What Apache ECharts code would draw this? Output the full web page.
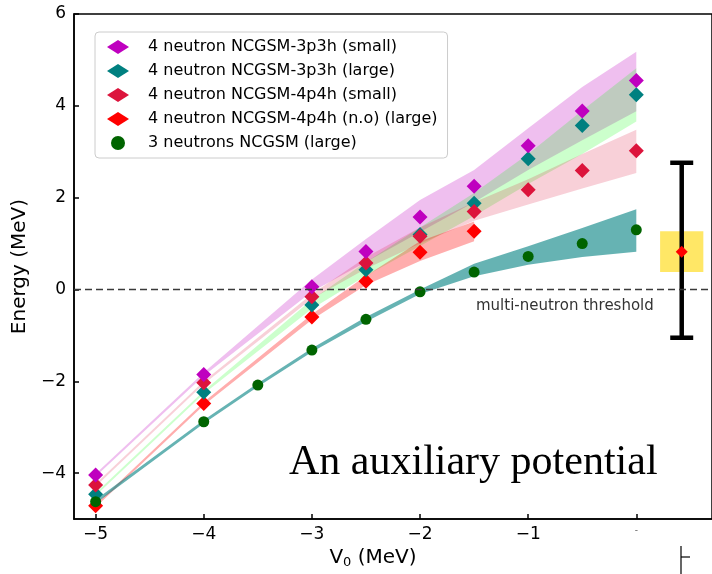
<!DOCTYPE html>
<html><head><meta charset="utf-8">
<script src="https://cdn.jsdelivr.net/npm/echarts@6/dist/echarts.min.js"></script>
<style>html,body{margin:0;padding:0;background:#fff}#c{width:712px;height:574px}</style>
</head><body><div id="c"></div>
<script>
// ---- data ----
const xs4 = [-5, -4, -3, -2.5, -2, -1.5, -1, -0.5, 0];
const mag = [-4.04, -1.85, 0.06, 0.83, 1.58, 2.25, 3.13, 3.89, 4.55];
const teal = [-4.46, -2.24, -0.34, 0.43, 1.20, 1.88, 2.85, 3.57, 4.24];
const crim = [-4.26, -2.03, -0.16, 0.58, 1.16, 1.70, 2.17, 2.59, 3.02];
const xsRed = [-5, -4, -3, -2.5, -2, -1.5];
const red = [-4.71, -2.48, -0.60, 0.18, 0.81, 1.27];
const xs3 = [-5, -4, -3.5, -3, -2.5, -2, -1.5, -1, -0.5, 0];
const n3 = [-4.62, -2.88, -2.08, -1.32, -0.65, -0.05, 0.38, 0.72, 1.00, 1.30];
// uncertainty bands (lower / upper)
const magLo = [-4.07, -1.88, -0.05, 0.60, 1.25, 1.90, 2.60, 3.25, 3.88];
const magHi = [-4.01, -1.81, 0.22, 1.10, 1.95, 2.60, 3.51, 4.41, 5.18];
const grnLo = [-4.49, -2.27, -0.42, 0.30, 0.95, 1.60, 2.30, 2.95, 3.66];
const grnHi = [-4.43, -2.21, -0.22, 0.60, 1.35, 2.10, 2.95, 3.90, 4.82];
const crmLo = [-4.29, -2.06, -0.20, 0.45, 1.00, 1.50, 1.85, 2.20, 2.54];
const crmHi = [-4.23, -2.00, -0.10, 0.70, 1.35, 1.90, 2.40, 2.95, 3.48];
const redLo = [-4.74, -2.52, -0.66, 0.10, 0.62, 1.05];
const redHi = [-4.68, -2.45, -0.54, 0.30, 1.05, 1.48];
const n3Lo = [-4.66, -2.92, -2.12, -1.36, -0.70, -0.10, 0.29, 0.54, 0.71, 0.82];
const n3Hi = [-4.58, -2.84, -2.04, -1.28, -0.60, 0.00, 0.56, 0.94, 1.34, 1.75];
// experiment
const expX = [0.42];
const expY = [0.82];
const expLo = [-1.05];
const expHi = [2.76];
const expBoxX = [0.22, 0.62];
const expBoxY = [0.38, 1.27];
// ticks
const xTicks = [-5, -4, -3, -2, -1, 0];
const yTicks = [-4, -2, 0, 2, 4, 6];
const names = ['4 neutron NCGSM-3p3h (small)', '4 neutron NCGSM-3p3h (large)', '4 neutron NCGSM-4p4h (small)', '4 neutron NCGSM-4p4h (n.o) (large)', '3 neutrons NCGSM (large)'];

// ---- build ----
const pairs = (xs, ys) => xs.map((x, i) => [x, ys[i]]);
function band(xs, lo, hi, color) {
  return {
    type: 'custom', silent: true, z: 1,
    data: xs.map((x, i) => [x, lo[i], hi[i]]),
    renderItem: function (params, api) {
      if (params.dataIndex !== 0) return;
      const pts = [];
      for (let i = 0; i < xs.length; i++) pts.push(api.coord([xs[i], hi[i]]));
      for (let i = xs.length - 1; i >= 0; i--) pts.push(api.coord([xs[i], lo[i]]));
      return { type: 'polygon', shape: { points: pts }, style: { fill: color } };
    }
  };
}
const minus = v => String(v).replace('-', '\u2212');
const font = 'DejaVu Sans';

const series = [
  band(xs4, magLo, magHi, 'rgba(191,0,191,0.25)'),
  band(xs4, grnLo, grnHi, 'rgba(0,255,0,0.2)'),
  band(xs4, crmLo, crmHi, 'rgba(220,20,60,0.2)'),
  band(xsRed, redLo, redHi, 'rgba(255,0,0,0.32)'),
  band(xs3, n3Lo, n3Hi, 'rgba(0,128,128,0.6)'),
  {
    type: 'custom', name: 'exp', z: 2, silent: true,
    data: [[expX[0], expLo[0], expHi[0], expBoxX[0], expBoxX[1], expBoxY[0], expBoxY[1]]],
    renderItem: function (params, api) {
      const x = api.value(0);
      const pLo = api.coord([x, api.value(1)]);
      const pHi = api.coord([x, api.value(2)]);
      const b1 = api.coord([api.value(3), api.value(6)]);
      const b2 = api.coord([api.value(4), api.value(5)]);
      const cw = 11.5;
      return {
        type: 'group', children: [
          { type: 'rect', shape: { x: b1[0], y: b1[1], width: b2[0] - b1[0], height: b2[1] - b1[1] }, style: { fill: 'rgba(255,215,0,0.6)' } },
          { type: 'line', shape: { x1: pLo[0], y1: pLo[1], x2: pHi[0], y2: pHi[1] }, style: { stroke: '#000', lineWidth: 4.5 } },
          { type: 'line', shape: { x1: pLo[0] - cw, y1: pLo[1], x2: pLo[0] + cw, y2: pLo[1] }, style: { stroke: '#000', lineWidth: 4.5 } },
          { type: 'line', shape: { x1: pHi[0] - cw, y1: pHi[1], x2: pHi[0] + cw, y2: pHi[1] }, style: { stroke: '#000', lineWidth: 4.5 } }
        ]
      };
    },
    markLine: {
      silent: true, symbol: 'none', animation: false,
      lineStyle: { type: [7, 4], color: '#3a3a3a', width: 1.3 },
      label: { show: false },
      data: [{ yAxis: 0 }]
    }
  },
  { type: 'scatter', name: 'expPoint', data: pairs(expX, expY), symbol: 'diamond', symbolSize: 12, itemStyle: { color: '#ff0000', opacity: 1 }, z: 4 },
  { type: 'scatter', name: names[3], data: pairs(xsRed, red), symbol: 'diamond', symbolSize: 15, itemStyle: { color: '#ff0000', opacity: 1 }, z: 3 },
  { type: 'scatter', name: names[1], data: pairs(xs4, teal), symbol: 'diamond', symbolSize: 15, itemStyle: { color: '#008080', opacity: 1 }, z: 3 },
  { type: 'scatter', name: names[2], data: pairs(xs4, crim), symbol: 'diamond', symbolSize: 15, itemStyle: { color: '#dc143c', opacity: 1 }, z: 3 },
  { type: 'scatter', name: names[0], data: pairs(xs4, mag), symbol: 'diamond', symbolSize: 15, itemStyle: { color: '#bf00bf', opacity: 1 }, z: 3 },
  { type: 'scatter', name: names[4], data: pairs(xs3, n3), symbol: 'circle', symbolSize: 11, itemStyle: { color: '#006400', opacity: 1 }, z: 3 }
];

const chart = echarts.init(document.getElementById('c'), null, { renderer: 'canvas' });
chart.setOption({
  animation: false,
  backgroundColor: '#fff',
  grid: { left: 74, top: 14, width: 641, height: 506, show: true, borderColor: '#000', borderWidth: 1.5, backgroundColor: 'transparent' },
  legend: {
    orient: 'vertical', left: 95, top: 32,
    padding: [7, 10, 7, 12], itemWidth: 22, itemHeight: 14, itemGap: 8,
    borderColor: '#ccc', borderWidth: 1, borderRadius: 4, backgroundColor: 'rgba(255,255,255,0.8)',
    textStyle: { fontFamily: font, fontSize: 16, color: '#000', padding: [0, 0, 0, 14] },
    data: [
      { name: names[0], icon: 'diamond' },
      { name: names[1], icon: 'diamond' },
      { name: names[2], icon: 'diamond' },
      { name: names[3], icon: 'diamond' },
      { name: names[4], icon: 'circle' }
    ]
  },
  xAxis: {
    type: 'value', min: -5.2, max: 0.7,
    splitLine: { show: false },
    axisLine: { onZero: false, lineStyle: { color: '#000', width: 1.5 } },
    axisTick: { inside: true, length: 5, lineStyle: { color: '#000', width: 1.5 }, customValues: xTicks },
    axisLabel: {
      customValues: xTicks, margin: 7, color: '#000', fontFamily: font, fontSize: 17,
      formatter: v => v === 0 ? '{d|-}' : minus(v),
      rich: { d: { fontSize: 9, color: '#555', padding: [0, 0, 12, 0] } }
    },
    name: 'V{s|0} (MeV)', nameLocation: 'middle', nameGap: 24,
    nameTextStyle: { fontFamily: font, fontSize: 20, color: '#000', padding: [0, 40, 0, 0], rich: { s: { fontSize: 13, fontFamily: font, color: '#000', padding: [9, 0, 0, 0] } } }
  },
  yAxis: {
    type: 'value', min: -5, max: 6,
    splitLine: { show: false },
    axisLine: { onZero: false, lineStyle: { color: '#000', width: 1.5 } },
    axisTick: { inside: true, length: 5, lineStyle: { color: '#000', width: 1.5 }, customValues: yTicks },
    axisLabel: { customValues: yTicks, margin: 8, color: '#000', fontFamily: font, fontSize: 17, formatter: v => minus(v) },
    name: 'Energy (MeV)', nameLocation: 'middle', nameGap: 42, nameRotate: 90,
    nameTextStyle: { fontFamily: font, fontSize: 20, color: '#000' }
  },
  graphic: [
    { type: 'text', left: 476, top: 299, style: { text: 'multi-neutron threshold', fontFamily: font, fontSize: 15, fill: '#333' }, z: 10 },
    { type: 'text', x: 289, y: 463, style: { text: 'An auxiliary potential', fontFamily: 'Liberation Serif', fontSize: 42, fill: '#000', verticalAlign: 'middle' }, z: 10 },
    { type: 'line', shape: { x1: 681, y1: 546, x2: 681, y2: 574 }, style: { stroke: '#000', lineWidth: 1.2 } },
    { type: 'line', shape: { x1: 681, y1: 557, x2: 690, y2: 557 }, style: { stroke: '#000', lineWidth: 1.2 } }
  ],
  series: series
});
</script></body></html>
